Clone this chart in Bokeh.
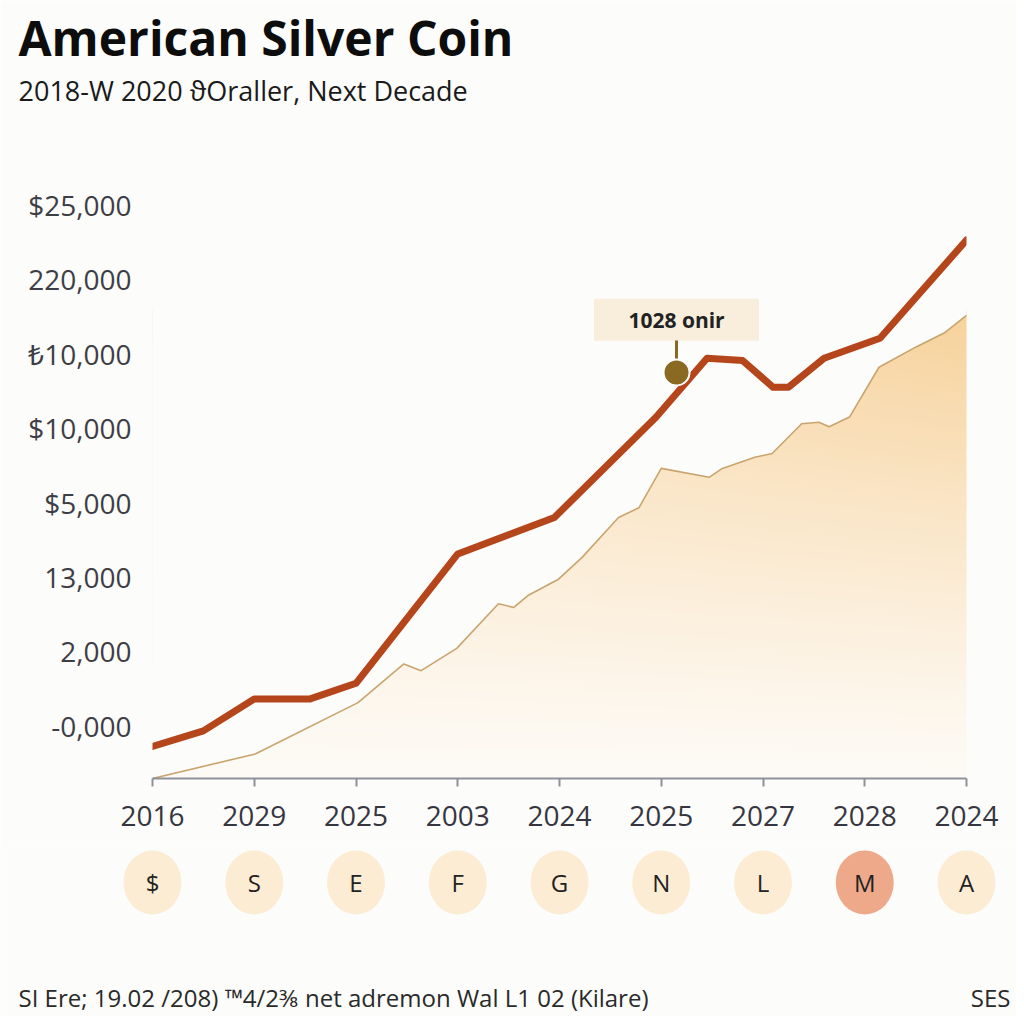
import numpy as np
from bokeh.plotting import figure
from bokeh.models import Range1d, FixedTicker, Title
from bokeh.layouts import column, row
from bokeh.core.properties import value
from bokeh.embed import file_html
from bokeh.resources import INLINE

# ---------------- data ----------------
title_text = "American Silver Coin"
subtitle_text = "2018-W 2020 ϑOraller, Next Decade"
footer_left = "SI Ere; 19.02 /208) ™4/2⅜ net adremon Wal L1 02 (Kilare)"
footer_right = "SES"

x_tick_labels = ["2016", "2029", "2025", "2003", "2024", "2025", "2027", "2028", "2024"]
y_tick_labels = ["-0,000", "2,000", "13,000", "$5,000", "$10,000", "₺10,000", "220,000", "$25,000"]
badge_letters = ["$", "S", "E", "F", "G", "N", "L", "M", "A"]
badge_highlight = [False, False, False, False, False, False, False, True, False]

# main (red) series
red_x = [0.0, 0.5, 1.0, 1.55, 2.0, 3.0, 3.95, 4.95, 5.45, 5.8, 6.1, 6.25, 6.6, 7.15, 8.0]
red_y = [-0.28, -0.07, 0.36, 0.36, 0.57, 2.31, 2.80, 4.15, 4.94, 4.91, 4.55, 4.55, 4.94, 5.21, 6.53]

# area series
area_x = [0.0, 1.01, 2.02, 2.47, 2.64, 2.99, 3.40, 3.55, 3.69, 3.99, 4.22, 4.58, 4.78, 5.00,
          5.47, 5.60, 5.92, 6.09, 6.38, 6.55, 6.65, 6.85, 7.14, 7.50, 7.78, 8.03]
area_y = [-0.71, -0.38, 0.31, 0.83, 0.74, 1.04, 1.64, 1.59, 1.75, 1.97, 2.26, 2.80, 2.93, 3.46,
          3.34, 3.46, 3.61, 3.66, 4.06, 4.08, 4.02, 4.15, 4.82, 5.09, 5.28, 5.55]

callout_x = 5.15
callout_y = 4.75
callout_text = "1028 onir"

# ---------------- styling ----------------
BG = "#fcfcfa"
RED = "#b5451b"
AREA_LINE = "#c9a46e"
FONT = "Open Sans"

Y_MIN, Y_MAX = -0.71, 7.6
W = 1016
LEFT, RIGHT = 152, 50
PX = (W - LEFT - RIGHT) / 8.0

p = figure(width=W, height=845, output_backend="svg", toolbar_location=None,
           x_range=Range1d(0, 8), y_range=Range1d(Y_MIN, Y_MAX),
           min_border_left=LEFT, min_border_right=RIGHT, min_border_top=160, min_border_bottom=67,
           background_fill_color=BG, border_fill_color=BG, outline_line_color=None)
p.title.visible = False
p.grid.visible = False

# titles: spacer (closest to frame), subtitle, main title
spacer = Title(text=" ", align="left", standoff=36, text_font=FONT, text_font_size="10px",
               text_color=BG)
p.add_layout(spacer, "above")
sub = Title(text=subtitle_text, align="left", offset=-134, standoff=0,
            text_font=FONT, text_font_size="27px", text_font_style="normal", text_color="#1a1a1a")
p.add_layout(sub, "above")
main = Title(text=title_text, align="left", offset=-134, standoff=0,
             text_font=FONT, text_font_size="48px", text_font_style="bold", text_color="#0d0d0d")
p.add_layout(main, "above")

# gradient fill under the area
ny, nx = 200, 80
gy = np.linspace(0, 1, ny)[:, None]
gx = np.linspace(0, 1, nx)[None, :]
t = (gy ** 1.15) * (0.62 + 0.38 * gx)
bottom = np.array([254, 251, 246], dtype=float)
top = np.array([247, 210, 155], dtype=float)
img = np.empty((ny, nx), dtype=np.uint32)
view = img.view(dtype=np.uint8).reshape((ny, nx, 4))
for c in range(3):
    view[:, :, c] = np.clip(bottom[c] + (top[c] - bottom[c]) * t, 0, 255).astype(np.uint8)
view[:, :, 3] = 255
grad_top = max(area_y) + 0.05
p.image_rgba(image=[img], x=0, y=Y_MIN, dw=max(area_x), dh=grad_top - Y_MIN)

# mask above the area curve
p.varea(x=area_x, y1=area_y, y2=[Y_MAX] * len(area_x), fill_color=BG, fill_alpha=1.0)
p.line(area_x, area_y, line_color=AREA_LINE, line_width=1.6, line_join="round")

# red line
p.line(red_x, red_y, line_color=RED, line_width=7, line_join="round", line_cap="round")

# callout
box_y = callout_y + 0.71
p.rect(x=[callout_x], y=[box_y], width=165, height=42, width_units="screen", height_units="screen",
       fill_color="#f8eedb", line_color=None)
p.text(x=[callout_x], y=[box_y], text=[callout_text], text_align="center", text_baseline="middle",
       text_font=value(FONT), text_font_size="21px", text_font_style="bold", text_color="#222222")
p.segment(x0=[callout_x], y0=[callout_y], x1=[callout_x], y1=[box_y - 0.28],
          line_color="#8a6a22", line_width=3)
p.scatter(x=[callout_x], y=[callout_y], size=26, fill_color="#8a6a22", line_color="white", line_width=2)

# axes
p.xaxis.ticker = FixedTicker(ticks=list(range(len(x_tick_labels))))
p.xaxis.major_label_overrides = {i: l for i, l in enumerate(x_tick_labels)}
p.xaxis.axis_line_color = "#8d9199"
p.xaxis.axis_line_width = 2
p.xaxis.major_tick_line_color = "#8d9199"
p.xaxis.major_tick_line_width = 2
p.xaxis.major_tick_out = 8
p.xaxis.major_tick_in = 0
p.xaxis.minor_tick_line_color = None
p.xaxis.major_label_standoff = 19
p.xaxis.major_label_text_font = FONT
p.xaxis.major_label_text_font_size = "28px"
p.xaxis.major_label_text_color = "#363640"

p.yaxis.ticker = FixedTicker(ticks=list(range(len(y_tick_labels))))
p.yaxis.major_label_overrides = {i: l for i, l in enumerate(y_tick_labels)}
p.yaxis.axis_line_color = None
p.yaxis.major_tick_line_color = None
p.yaxis.minor_tick_line_color = None
p.yaxis.major_label_standoff = 15
p.yaxis.major_label_text_font = FONT
p.yaxis.major_label_text_font_size = "28px"
p.yaxis.major_label_text_color = "#3e3e46"

# ---------------- bottom strip: badges + footer (full-width frame) ----------------
H2 = 171
x0_full = -LEFT / PX
x1_full = (W - LEFT) / PX
p2 = figure(width=W, height=H2, output_backend="svg", toolbar_location=None,
            x_range=Range1d(x0_full, x1_full), y_range=Range1d(0, H2),
            x_axis_type=None, y_axis_type=None,
            min_border_left=0, min_border_right=0, min_border_top=0, min_border_bottom=0,
            background_fill_color=BG, border_fill_color=BG, outline_line_color=None)
p2.grid.visible = False
bx = list(range(len(badge_letters)))
by = [134] * len(badge_letters)
bcol = ["#eda98a" if h else "#fcecd4" for h in badge_highlight]
p2.ellipse(x=bx, y=by, width=58, height=64, width_units="screen", height_units="screen",
           fill_color=bcol, line_color=None)
p2.text(x=bx, y=by, text=badge_letters, text_align="center", text_baseline="middle",
        text_font=value(FONT), text_font_size="24px", text_color="#222222")
p2.text(x=[(18 - LEFT) / PX], y=[19], text=[footer_left], text_align="left",
        text_baseline="middle", text_font=value(FONT), text_font_size="24px", text_color="#2a2a2a")
p2.text(x=[(1010 - LEFT) / PX], y=[19], text=[footer_right], text_align="right",
        text_baseline="middle", text_font=value(FONT), text_font_size="24px", text_color="#2a2a2a")

layout = column(p, row(p2), spacing=0)
open("out.html", "w").write(file_html(layout, INLINE))
